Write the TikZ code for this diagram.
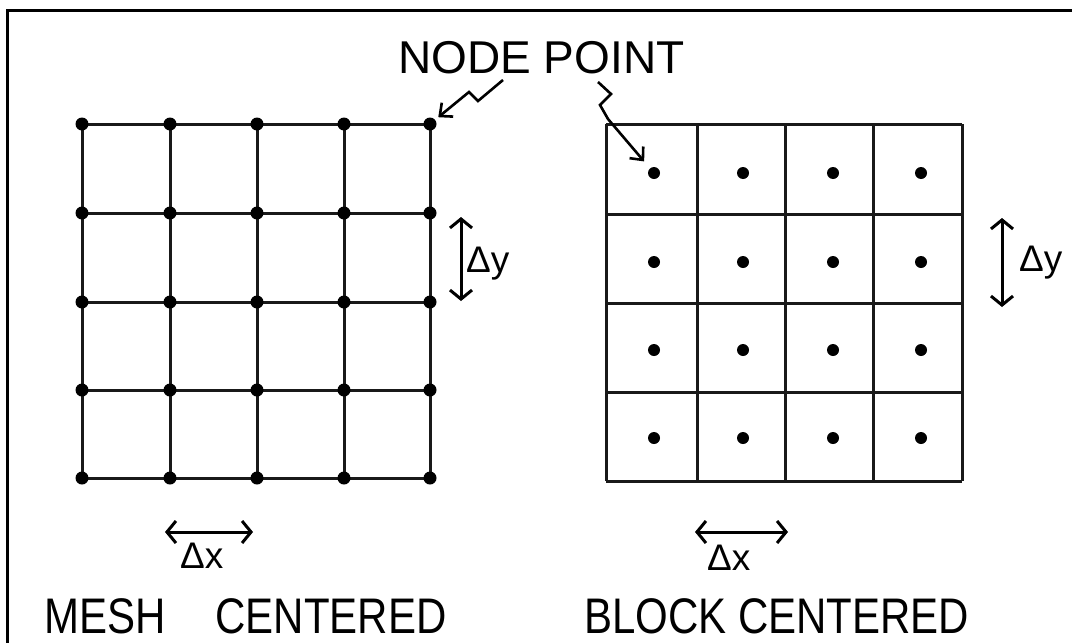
\documentclass[tikz,border=0pt]{standalone}
\usepackage{fontspec}
\setmainfont{Liberation Sans}
\newfontfamily\narrowfont[FakeStretch=0.84]{Liberation Sans}
\usetikzlibrary{arrows.meta}
\begin{document}
\begin{tikzpicture}[x=1pt,y=-1pt,
  gridline/.style={line width=3pt, black!90},
  frameline/.style={line width=3pt, black},
  meshdot/.style={circle, fill=black, inner sep=0pt, minimum size=13pt},
  blockdot/.style={circle, fill=black, inner sep=0pt, minimum size=12pt},
  dimarrow/.style={line width=3pt, {Straight Barb[length=9pt,width=22pt,line width=3pt]}-{Straight Barb[length=9pt,width=22pt,line width=3pt]}},
  pointer/.style={line width=2.6pt, -{Straight Barb[length=10pt,width=18pt,line width=2.6pt]}},
  dimlabel/.style={font=\fontsize{37}{40}\selectfont, anchor=base west, inner sep=0pt},
  title/.style={font=\narrowfont\fontsize{50}{56}\selectfont, anchor=base west, inner sep=0pt}]
\useasboundingbox (0,0) rectangle (1072,643);
\fill[white] (0,0) rectangle (1072,643);
% frame
\draw[frameline] (7,643) -- (7,10) -- (1072,10);
% mesh centered grid
\foreach \x in {82,170,257,344,430} \draw[gridline] (\x,124) -- (\x,478);
\foreach \y in {124,213,302,390,478} \draw[gridline] (82,\y) -- (430,\y);
\foreach \x [count=\i] in {82,170,257,344,430}
  \foreach \y [count=\j] in {124,213,302,390,478}
    \node[meshdot] (m-\i-\j) at (\x,\y) {};
% block centered grid
\foreach \x in {606,697,785,873,962} \draw[gridline] (\x,124) -- (\x,481);
\foreach \y in {124,214,303,392,481} \draw[gridline] (606,\y) -- (962,\y);
\foreach \x [count=\i] in {654,743,833,921}
  \foreach \y [count=\j] in {173,262,350,438}
    \node[blockdot] (b-\i-\j) at (\x,\y) {};
% node point label
\node[font=\fontsize{46}{50}\selectfont, anchor=base west, inner sep=0pt] (np) at (398,73) {NODE POINT};
\coordinate (npl) at (503,80);
\coordinate (npr) at (598,82);
\draw[pointer, shorten >=4pt] (npl) -- (478,101) -- (469,92) -- (m-5-1);
\draw[pointer, shorten >=9pt] (npr) -- (611,94) -- (600,105) -- (608,119) -- (b-1-1);
% dimension arrows
\coordinate (dy1t) at (461,217); \coordinate (dy1b) at (461,301);
\draw[dimarrow] (dy1t) -- (dy1b);
\node[dimlabel] (dy1) at (466,272) {Δy};
\coordinate (dy2t) at (1002,218); \coordinate (dy2b) at (1002,307);
\draw[dimarrow] (dy2t) -- (dy2b);
\node[dimlabel] (dy2) at (1019,271) {Δy};
\coordinate (dx1l) at (165,532); \coordinate (dx1r) at (253,532);
\draw[dimarrow] (dx1l) -- (dx1r);
\node[dimlabel] (dx1) at (180,568) {Δx};
\coordinate (dx2l) at (695,532); \coordinate (dx2r) at (788,532);
\draw[dimarrow] (dx2l) -- (dx2r);
\node[dimlabel] (dx2) at (707,570) {Δx};
% titles
\node[title] (mc) at (44,633) {MESH\hspace{50pt}CENTERED};
\node[title] (bc) at (584,633) {BLOCK CENTERED};
\end{tikzpicture}
\end{document}
